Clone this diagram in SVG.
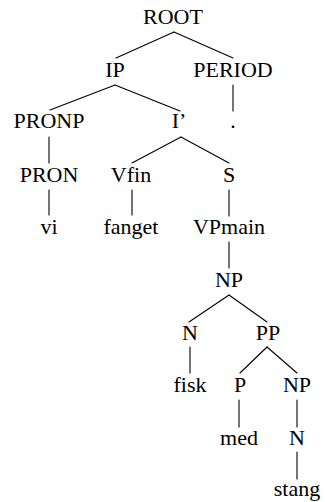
<svg xmlns="http://www.w3.org/2000/svg" width="325" height="502" viewBox="0 0 325 502">
<style>
.t text { font-size: 22px; fill: #000; text-anchor: middle; }
.e line { stroke: #000; stroke-width: 1.1; stroke-linecap: round; }
</style>
<rect width="325" height="502" fill="#fff"/>
<g class="e" id="connectors">
<line x1="174" y1="32" x2="116" y2="58"/>
<line x1="174" y1="32" x2="233" y2="58"/>
<line x1="115" y1="85" x2="50" y2="110"/>
<line x1="115" y1="85" x2="180" y2="111"/>
<line x1="233" y1="85" x2="233" y2="111"/>
<line x1="49" y1="137" x2="49" y2="163"/>
<line x1="181" y1="137" x2="132" y2="163"/>
<line x1="181" y1="137" x2="229" y2="163"/>
<line x1="49" y1="190" x2="49" y2="215"/>
<line x1="132" y1="190" x2="132" y2="215"/>
<line x1="229" y1="190" x2="229" y2="216"/>
<line x1="229" y1="242" x2="229" y2="268"/>
<line x1="229" y1="295" x2="189" y2="322"/>
<line x1="229" y1="295" x2="267" y2="322"/>
<line x1="190" y1="347" x2="190" y2="373"/>
<line x1="267" y1="347" x2="240" y2="373"/>
<line x1="267" y1="347" x2="297" y2="373"/>
<line x1="239" y1="400" x2="239" y2="427"/>
<line x1="297" y1="400" x2="297" y2="427"/>
<line x1="297" y1="452" x2="297" y2="479"/>
</g>
<g class="t" font-family="Liberation Serif, DejaVu Serif, serif">
<g id="root"><text x="173" y="24">ROOT</text></g>
<g id="ip"><text x="115" y="77">IP</text></g>
<g id="period"><text x="233" y="77">PERIOD</text></g>
<g id="pronp"><text x="49" y="128">PRONP</text></g>
<g id="ibar"><text x="179" y="128">I’</text></g>
<g id="dot"><text x="233" y="128">.</text></g>
<g id="pron"><text x="49" y="182">PRON</text></g>
<g id="vfin"><text x="131" y="182">Vfin</text></g>
<g id="s"><text x="229" y="182">S</text></g>
<g id="vi"><text x="49" y="234">vi</text></g>
<g id="fanget"><text x="131" y="234">fanget</text></g>
<g id="vpmain"><text x="229" y="234">VPmain</text></g>
<g id="np1"><text x="229" y="287">NP</text></g>
<g id="n1"><text x="190" y="340">N</text></g>
<g id="pp"><text x="268" y="340">PP</text></g>
<g id="fisk"><text x="190" y="392">fisk</text></g>
<g id="p"><text x="240" y="392">P</text></g>
<g id="np2"><text x="297" y="392">NP</text></g>
<g id="med"><text x="239" y="445">med</text></g>
<g id="n2"><text x="297" y="445">N</text></g>
<g id="stang"><text x="297" y="496">stang</text></g>
</g>
</svg>
